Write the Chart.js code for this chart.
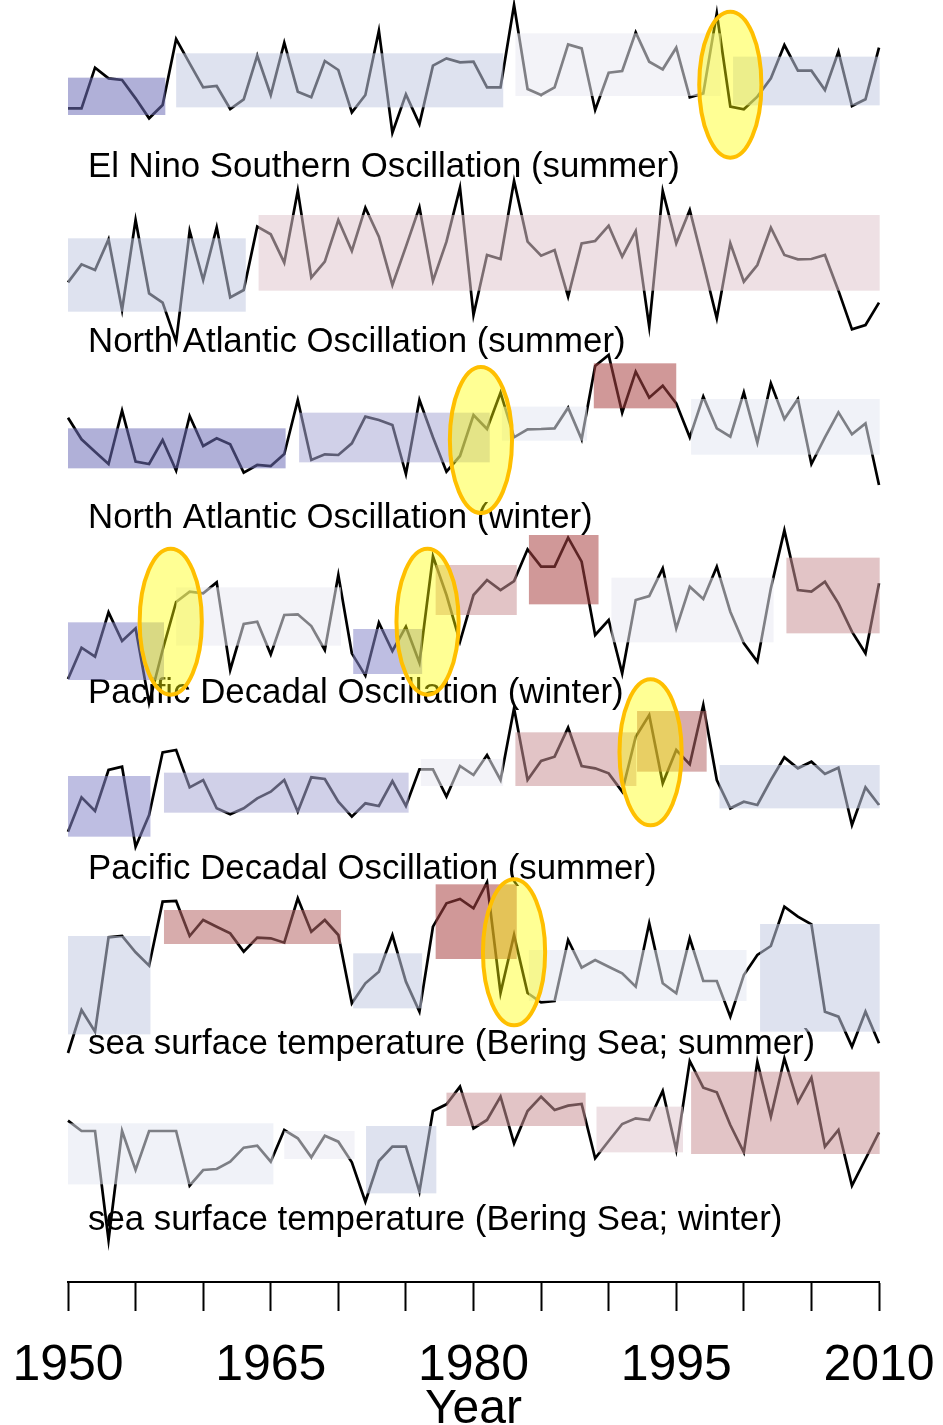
<!DOCTYPE html>
<html>
<head>
<meta charset="utf-8">
<script src="https://cdn.jsdelivr.net/npm/chart.js@4.4.1/dist/chart.umd.min.js"></script>
<style>
  html, body { margin: 0; padding: 0; background: #fff; }
  #wrap { width: 943px; height: 1425px; }
</style>
</head>
<body>
<div id="wrap"><canvas id="chart" width="943" height="1425"></canvas></div>
<script>
'use strict';

// ---- data (standardised anomalies) ----
const years = Array.from({ length: 61 }, (_, i) => 1950 + i);

const panelTitles = [
  'El Nino Southern Oscillation (summer)',
  'North Atlantic Oscillation (summer)',
  'North Atlantic Oscillation (winter)',
  'Pacific Decadal Oscillation (winter)',
  'Pacific Decadal Oscillation (summer)',
  'sea surface temperature (Bering Sea; summer)',
  'sea surface temperature (Bering Sea; winter)'
];

const ensoSummer = [
  -0.75, -0.75, 0.47, 0.15, 0.10, -0.45, -1.05, -0.65, 1.33, 0.60,
  -0.12, -0.08, -0.77, -0.48, 0.83, -0.35, 1.22, -0.25, -0.42, 0.67,
  0.40, -0.87, -0.35, 1.58, -1.48, -0.33, -1.22, 0.53, 0.75, 0.63,
  0.65, -0.12, -0.12, 2.35, -0.17, -0.35, -0.12, 1.17, 1.05, -0.80,
  0.32, 0.37, 1.53, 0.65, 0.42, 1.07, -0.42, -0.30, 2.10, -0.70,
  -0.78, -0.40, 0.15, 1.15, 0.38, 0.38, -0.20, 0.95, -0.68, -0.48, 1.07
];
const naoSummer = [
  -0.62, -0.08, -0.25, 0.67, -1.45, 1.25, -0.95, -1.23, -2.40, 0.92,
  -0.55, 1.03, -1.07, -0.85, 1.05, 0.82, -0.03, 2.13, -0.48, 0.00,
  1.25, 0.32, 1.62, 0.75, -0.70, 0.45, 1.63, -0.58, 0.60, 2.22,
  -1.60, 0.20, 0.08, 2.42, 0.60, 0.18, 0.35, -1.05, 0.55, 0.62,
  1.08, 0.15, 0.92, -1.95, 2.12, 0.55, 1.55, -0.05, -1.70, 0.55,
  -0.60, -0.10, 1.02, 0.20, 0.07, 0.08, 0.20, -0.87, -2.03, -1.90, -1.23
];
const naoWinter = [
  0.37, -0.28, -0.65, -1.02, 0.58, -0.95, -1.02, -0.30, -1.22, 0.42,
  -0.48, -0.25, -0.43, -1.28, -1.05, -1.08, -0.72, 0.90, -0.90, -0.73,
  -0.75, -0.40, 0.40, 0.30, 0.15, -1.32, 0.90, -0.22, -1.25, -0.78,
  0.45, 0.03, 1.12, -0.22, 0.02, 0.03, 0.05, 0.67, -0.28, 1.92,
  2.25, 0.52, 1.75, 0.97, 1.33, 0.80, -0.22, 1.00, 0.05, -0.20,
  1.13, -0.38, 1.40, 0.33, 0.93, -1.02, -0.22, 0.53, -0.13, 0.20, -1.65
];
const pdoWinter = [
  -1.82, -0.88, -1.15, 0.18, -0.68, -0.30, -2.54, -0.95, 0.49, 0.80,
  0.75, 1.08, -1.55, -0.17, -0.10, -1.08, 0.10, 0.12, -0.23, -0.95,
  1.30, -1.05, -1.72, -0.13, -0.98, -0.25, -1.33, 1.86, 0.70, -0.70,
  0.70, 1.15, 0.85, 1.12, 2.07, 1.55, 1.55, 2.42, 1.70, -0.50,
  -0.05, -1.65, 0.55, 0.67, 1.50, -0.30, 0.95, 0.58, 1.55, 0.20,
  -0.75, -1.30, 0.90, 2.64, 0.85, 0.80, 1.10, 0.45, -0.40, -1.05, 1.05
];
const pdoSummer = [
  -1.65, -0.62, -1.03, 0.20, 0.30, -2.10, -1.15, 0.73, 0.80, -0.32,
  -0.10, -0.95, -1.13, -0.95, -0.65, -0.45, -0.10, -1.05, -0.02, -0.07,
  -0.75, -1.20, -0.80, -0.88, -0.13, -0.88, 0.22, 0.22, -0.60, 0.32,
  0.05, 0.65, -0.10, 2.05, -0.10, 0.47, 0.60, 1.47, 0.32, 0.25,
  0.10, -0.45, 1.20, 1.85, -0.20, 0.80, 0.37, 2.15, -0.10, -0.95,
  -0.75, -0.85, -0.10, 0.58, 0.25, 0.45, 0.08, 0.27, -1.45, -0.32, -0.85
];
const sstSummer = [
  -2.54, -1.25, -1.90, 0.93, 0.97, 0.48, 0.08, 2.00, 2.02, 0.97,
  1.45, 1.25, 1.05, 0.50, 0.92, 0.90, 0.77, 2.10, 1.10, 1.45,
  1.00, -1.05, -0.45, -0.10, 1.00, -0.40, -1.30, 1.25, 1.95, 2.08,
  1.80, 2.58, -0.74, 1.00, -0.74, -1.02, -0.98, 0.85, 0.02, 0.25,
  0.05, -0.15, -0.55, 1.35, -0.45, -0.75, 0.90, -0.38, -0.38, -1.45,
  -0.20, 0.40, 0.67, 1.85, 1.55, 1.32, -1.30, -1.45, -2.35, -1.30, -2.25
];
const sstWinter = [
  0.63, 0.32, 0.32, -2.95, 0.32, -0.85, 0.32, 0.32, 0.32, -1.32,
  -0.85, -0.82, -0.60, -0.18, -0.12, -0.60, 0.35, 0.10, -0.47, 0.18,
  0.00, -0.62, -1.80, -0.58, -0.15, -0.15, -1.50, 0.92, 1.12, 1.65,
  0.40, 0.65, 1.35, -0.05, 0.92, 1.35, 0.95, 1.08, 1.13, -0.50,
  0.02, 0.53, 0.70, 0.65, 1.52, -0.25, 2.42, 1.62, 1.48, 0.50,
  -0.32, 2.40, 0.75, 2.50, 1.18, 1.92, -0.15, 0.35, -1.32, -0.52, 0.28
];

// regimes: [from, to, upper, lower, class]
const ensoSummerRegimes = [
  [1950, 1957.2, 0.17, -0.95, 'n3'],
  [1958, 1982.2, 0.90, -0.72, 'n0'],
  [1983.1, 1998.3, 1.50, -0.38, 'z'],
  [1999.2, 2010.05, 0.80, -0.66, 'n0']
];
const naoSummerRegimes = [
  [1950, 1963.15, 0.70, -1.50, 'n0'],
  [1964.1, 2010.05, 1.40, -0.87, 'p1']
];
const naoWinterRegimes = [
  [1950, 1966.1, 0.05, -1.15, 'n3'],
  [1967.1, 1981.2, 0.52, -0.97, 'n1'],
  [1982.1, 1988.4, 0.70, -0.32, 'zb'],
  [1988.9, 1995.0, 2.00, 0.65, 'p4'],
  [1996.1, 2010.05, 0.93, -0.74, 'zb']
];
const pdoWinterRegimes = [
  [1950, 1957.1, -0.12, -1.85, 'n2'],
  [1958, 1970.2, 0.93, -0.82, 'z'],
  [1971.1, 1976.2, -0.32, -1.67, 'n2'],
  [1977.2, 1983.2, 1.60, 0.10, 'p2'],
  [1984.1, 1989.25, 2.50, 0.42, 'p4'],
  [1990.2, 2002.2, 1.22, -0.72, 'z'],
  [2003.15, 2010.05, 1.82, -0.45, 'p2']
];
const pdoSummerRegimes = [
  [1950, 1956.1, 0.02, -1.80, 'n2'],
  [1957.1, 1975.2, 0.12, -1.08, 'n1'],
  [1976.1, 1982.2, 0.53, -0.28, 'z'],
  [1983.1, 1992.05, 1.33, -0.28, 'p2'],
  [1992.1, 1997.25, 1.97, 0.15, 'p3'],
  [1998.2, 2010.05, 0.35, -0.95, 'n0']
];
const sstSummerRegimes = [
  [1950, 1956.1, 0.97, -1.98, 'n0'],
  [1957.1, 1970.2, 1.75, 0.73, 'p3'],
  [1971.1, 1976.2, 0.45, -1.20, 'n0'],
  [1977.2, 1983.2, 2.52, 0.28, 'p4'],
  [1984.1, 2000.2, 0.55, -0.98, 'zb'],
  [2001.2, 2010.05, 1.33, -1.90, 'n0']
];
const sstWinterRegimes = [
  [1950, 1965.2, 0.55, -1.28, 'zb'],
  [1966.0, 1971.2, 0.32, -0.52, 'z'],
  [1972.05, 1977.25, 0.47, -1.55, 'n0'],
  [1978.0, 1988.3, 1.47, 0.47, 'p2'],
  [1989.1, 1995.5, 1.05, -0.32, 'p1'],
  [1996.1, 2010.05, 2.10, -0.37, 'p2']
];

// highlighted shifts: [panel index, year, value]
const shiftPanels = [0, 2, 3, 3, 4, 5];
const shiftYears  = [1999.0, 1980.55, 1957.6, 1976.6, 1993.1, 1983.0];
const shiftValues = [-0.04, -0.30, -0.10, -0.10, 0.73, 0.48];

// ---- layout / style ----
const panelSeries = [ensoSummer, naoSummer, naoWinter, pdoWinter, pdoSummer, sstSummer, sstWinter];
const panelRegimes = [ensoSummerRegimes, naoSummerRegimes, naoWinterRegimes, pdoWinterRegimes,
  pdoSummerRegimes, sstSummerRegimes, sstWinterRegimes];
const panelTop = [2.5, 2.585, 2.37, 2.755, 2.24, 2.725, 2.66];
const panelWeight = [175.5, 175.5, 175.5, 175.5, 175.5, 175.5, 229];
const UNITS_PER_WEIGHT = 5.265 / 175.5;

const regimeFill = {
  n3: 'rgba(111,111,184,0.55)',
  n2: 'rgba(136,136,202,0.55)',
  n1: 'rgba(170,170,213,0.55)',
  n0: 'rgba(195,202,226,0.55)',
  zb: 'rgba(228,231,242,0.55)',
  z:  'rgba(233,233,242,0.55)',
  p1: 'rgba(224,199,206,0.55)',
  p2: 'rgba(202,148,152,0.55)',
  p3: 'rgba(182,104,104,0.55)',
  p4: 'rgba(170,68,68,0.55)'
};
const FONT = '"Liberation Sans", Arial, Helvetica, sans-serif';

const panelPlugin = {
  id: 'panelPlugin',
  beforeDatasetsDraw(chart) {
    const { ctx, scales } = chart;
    ctx.save();
    ctx.fillStyle = '#000';
    ctx.font = `34.8px ${FONT}`;
    ctx.textBaseline = 'middle';
    ctx.textAlign = 'left';
    panelTitles.forEach((t, i) => {
      const ys = scales['y' + i];
      ctx.fillText(t, chart.chartArea.left + 20, ys.top + 167);
    });
    ctx.restore();
  },
  afterDatasetsDraw(chart) {
    const { ctx, scales } = chart;
    const x = scales.x;
    ctx.save();
    panelRegimes.forEach((regs, i) => {
      const ys = scales['y' + i];
      regs.forEach(([from, to, hi, lo, cls]) => {
        const l = x.getPixelForValue(from), r = x.getPixelForValue(to);
        const t = ys.getPixelForValue(hi), b = ys.getPixelForValue(lo);
        ctx.fillStyle = regimeFill[cls];
        ctx.fillRect(l, t, r - l, b - t);
      });
    });
    shiftPanels.forEach((p, k) => {
      const ys = scales['y' + p];
      const cx = x.getPixelForValue(shiftYears[k]);
      const cy = ys.getPixelForValue(shiftValues[k]);
      const rx = Math.abs(x.getPixelForValue(shiftYears[k] + 2.3) - cx);
      const ry = Math.abs(ys.getPixelForValue(shiftValues[k] + 2.19) - cy);
      ctx.beginPath();
      ctx.ellipse(cx, cy, rx, ry, 0, 0, Math.PI * 2);
      ctx.fillStyle = 'rgba(255,255,0,0.42)';
      ctx.fill();
      ctx.lineWidth = 4;
      ctx.strokeStyle = '#ffbf00';
      ctx.stroke();
    });
    ctx.restore();
  }
};

const yScales = {};
panelSeries.forEach((_, i) => {
  yScales['y' + i] = {
    type: 'linear',
    position: 'left',
    stack: 'panels',
    stackWeight: panelWeight[i],
    weight: 10 - i,
    display: false,
    max: panelTop[i],
    min: panelTop[i] - panelWeight[i] * UNITS_PER_WEIGHT
  };
});

const datasets = panelSeries.map((s, i) => ({
  label: panelTitles[i],
  data: s.map((v, j) => ({ x: years[j], y: v })),
  yAxisID: 'y' + i,
  borderColor: '#000',
  borderWidth: 2.7,
  pointRadius: 0,
  tension: 0,
  fill: false,
  clip: false
}));

new Chart(document.getElementById('chart').getContext('2d'), {
  type: 'line',
  data: { datasets },
  options: {
    responsive: false,
    animation: false,
    devicePixelRatio: 1,
    layout: { padding: { left: 68, right: 64, top: 0, bottom: 0 } },
    plugins: { legend: { display: false }, tooltip: { enabled: false } },
    scales: Object.assign({
      x: {
        type: 'linear',
        position: 'bottom',
        min: 1950,
        max: 2010,
        afterFit(scale) { scale.height = 143; },
        grid: { drawOnChartArea: false, drawTicks: true, tickLength: 29, tickWidth: 2, tickColor: '#000' },
        border: { display: true, color: '#000', width: 2 },
        ticks: {
          stepSize: 5,
          autoSkip: false,
          maxRotation: 0,
          padding: 0,
          color: '#000',
          font: { size: 50, family: FONT, lineHeight: 2.2 },
          callback: (v) => ((v - 1950) % 15 === 0 ? String(v) : '')
        },
        title: {
          display: true,
          text: 'Year',
          color: '#000',
          font: { size: 48, family: FONT, lineHeight: 1.2 },
          padding: { top: 0, bottom: -14 }
        }
      }
    }, yScales)
  },
  plugins: [panelPlugin]
});
</script>
</body>
</html>
